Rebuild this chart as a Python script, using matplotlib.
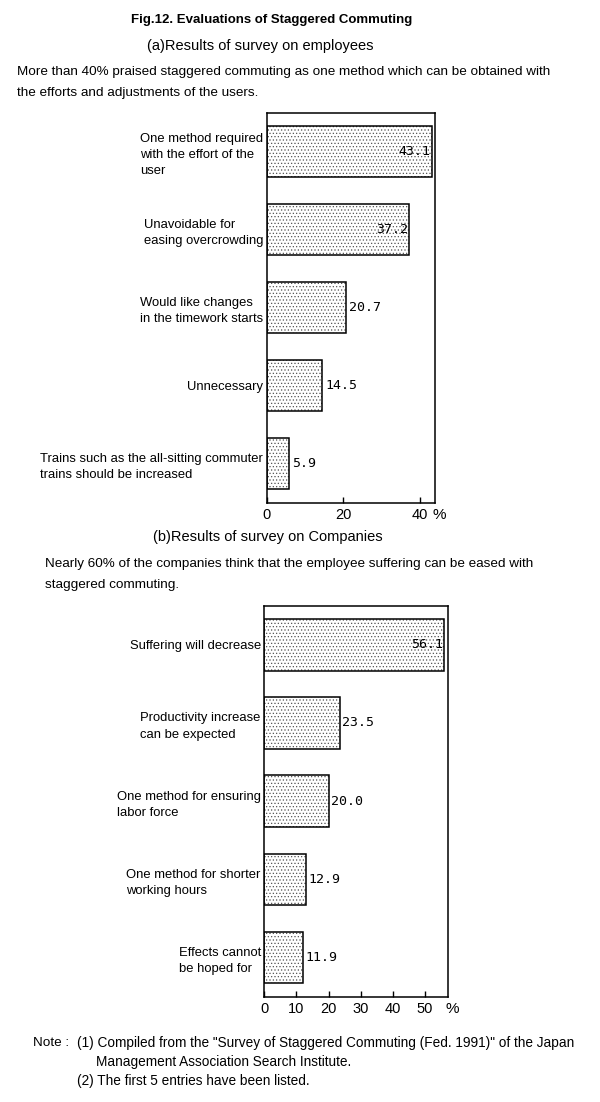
import matplotlib
matplotlib.use("Agg")
import matplotlib.pyplot as plt

plt.rcParams['font.family'] = ['Liberation Sans', 'DejaVu Sans']
plt.rcParams['hatch.linewidth'] = 0.5

# (a) survey on employees
emp_labels = ["One method required\nwith the effort of the\nuser",
              "Unavoidable for\neasing overcrowding",
              "Would like changes\nin the timework starts",
              "Unnecessary",
              "Trains such as the all-sitting commuter\ntrains should be increased"]
emp_values = [43.1, 37.2, 20.7, 14.5, 5.9]
emp_ticks = [0, 20, 40]

# (b) survey on companies
com_labels = ["Suffering will decrease",
              "Productivity increase\ncan be expected",
              "One method for ensuring\nlabor force",
              "One method for shorter\nworking hours",
              "Effects cannot\nbe hoped for"]
com_values = [56.1, 23.5, 20.0, 12.9, 11.9]
com_ticks = [0, 10, 20, 30, 40, 50]

W, H = 600, 1102
fig = plt.figure(figsize=(W / 100, H / 100), dpi=100)


def px_axes(left, top, right, bottom):
    return fig.add_axes([left / W, 1 - bottom / H, (right - left) / W, (bottom - top) / H])


def ftext(x, y, s, **kw):
    fig.text(x / W, 1 - y / H, s, va='center', **kw)


def draw(ax, labels, values, ticks, xmax):
    pos = list(range(len(values)))
    ax.barh(pos, values, height=0.66, color='white', hatch='.....',
            edgecolor='#555555', linewidth=0)
    ax.barh(pos, values, height=0.66, fill=False, edgecolor='black', linewidth=1.1)
    ax.set_xlim(0, xmax)
    ax.set_ylim(len(values) - 0.5, -0.5)
    ax.set_yticks(pos, labels)
    for t in ax.get_yticklabels():
        t.set_multialignment('left')
        t.set_fontsize(9.4)
        t.set_linespacing(1.45)
    ax.tick_params(axis='y', length=0, pad=2.5)
    ax.set_xticks(ticks)
    ax.tick_params(axis='x', direction='in', length=4, width=1, labelsize=10.5, pad=4)
    for sp in ax.spines.values():
        sp.set_linewidth(1.1)
    for p, v in zip(pos, values):
        if v > 30:
            ax.text(v - 0.3, p, f"{v:.1f}", ha='right', va='center',
                    family='DejaVu Sans Mono', fontsize=9.5)
        else:
            ax.text(v + 0.8, p, f"{v:.1f}", ha='left', va='center',
                    family='DejaVu Sans Mono', fontsize=9.5)
    ax.annotate("%", xy=(1, 0), xycoords='axes fraction', xytext=(3, -4),
                textcoords='offset points', ha='center', va='top', fontsize=11)


ax1 = px_axes(266.7, 112.7, 435, 502.7)
draw(ax1, emp_labels, emp_values, emp_ticks, 43.9)

ax2 = px_axes(264.3, 605.7, 448.3, 996.7)
draw(ax2, com_labels, com_values, com_ticks, 57.3)

ftext(272, 20, "Fig.12. Evaluations of Staggered Commuting", ha='center',
      fontsize=9.5, fontweight='bold')
ftext(260, 46, "(a)Results of survey on employees", ha='center', fontsize=10.5)
ftext(17, 72, "More than 40% praised staggered commuting as one method which can be obtained with",
      ha='left', fontsize=9.7)
ftext(17, 93, "the efforts and adjustments of the users.", ha='left', fontsize=9.7)

ftext(268, 537, "(b)Results of survey on Companies", ha='center', fontsize=10.5)
ftext(45, 564, "Nearly 60% of the companies think that the employee suffering can be eased with",
      ha='left', fontsize=9.7)
ftext(45, 585, "staggered commuting.", ha='left', fontsize=9.7)

ftext(33, 1043, "Note :", ha='left', fontsize=9.7)
ftext(77, 1043, "(1) Compiled from the \"Survey of Staggered Commuting (Fed. 1991)\" of the Japan",
      ha='left', fontsize=9.85)
ftext(96, 1062, "Management Association Search Institute.", ha='left', fontsize=9.85)
ftext(77, 1081, "(2) The first 5 entries have been listed.", ha='left', fontsize=9.85)

fig.savefig("out.png", dpi=100)
